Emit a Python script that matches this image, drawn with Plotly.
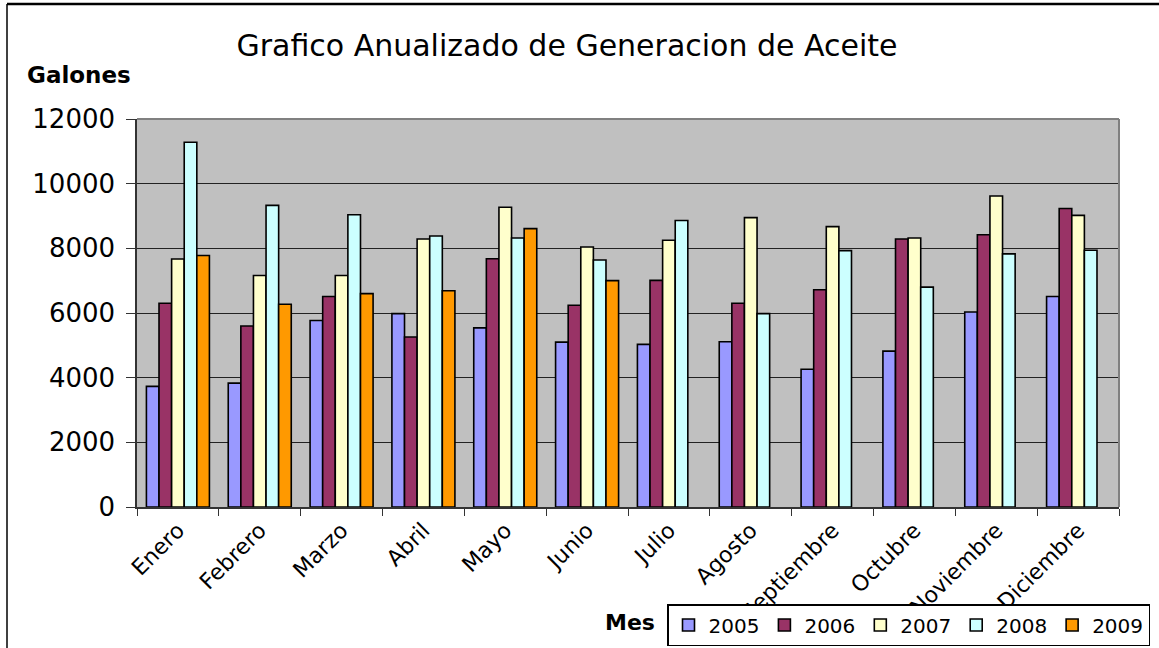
import plotly.graph_objects as go

months = ["Enero", "Febrero", "Marzo", "Abril", "Mayo", "Junio", "Julio",
          "Agosto", "Septiembre", "Octubre", "Noviembre", "Diciembre"]

y2005 = [3730, 3830, 5770, 5980, 5540, 5100, 5030, 5110, 4260, 4820, 6030, 6510]
y2006 = [6300, 5600, 6510, 5260, 7680, 6240, 7010, 6300, 6720, 8290, 8420, 9230]
y2007 = [7670, 7160, 7160, 8290, 9270, 8040, 8250, 8950, 8670, 8320, 9620, 9020]
y2008 = [11280, 9330, 9040, 8380, 8320, 7640, 8860, 5980, 7930, 6800, 7830, 7940]
y2009 = [7780, 6270, 6600, 6690, 8610, 7000, None, None, None, None, None, None]

series = [("2005", y2005, "#9999FF"), ("2006", y2006, "#993366"),
          ("2007", y2007, "#FFFFCC"), ("2008", y2008, "#CCFFFF"),
          ("2009", y2009, "#FF9900")]

W, H = 1159, 648
ML, MR, MT, MB = 137, 40, 119, 141
pw = W - ML - MR
ph = H - MT - MB

fig = go.Figure()
for name, vals, col in series:
    fig.add_trace(go.Bar(x=months, y=vals, name=name,
                         marker=dict(color=col, line=dict(color="black", width=1.6))))

FONT = "DejaVu Sans"
fig.update_layout(
    width=W, height=H,
    margin=dict(l=ML, r=MR, t=MT, b=MB, autoexpand=False),
    paper_bgcolor="white", plot_bgcolor="#C0C0C0",
    barmode="group", bargap=0.23, bargroupgap=0,
    font=dict(family=FONT, color="black"),
    title=dict(text="Grafico Anualizado de Generacion de Aceite",
               font=dict(family=FONT, size=30, color="black"),
               x=(567) / W, xanchor="center", y=1 - 45 / H, yanchor="middle"),
    showlegend=True,
    legend=dict(orientation="h", xref="container", yref="container",
                x=1150 / W, xanchor="right", y=(H - 646) / H, yanchor="bottom",
                bordercolor="black", borderwidth=1.5, bgcolor="white",
                font=dict(family=FONT, size=20), itemwidth=30,
                traceorder="normal"),
    xaxis=dict(tickangle=-45, tickfont=dict(family=FONT, size=22),
               ticks="outside", tickson="boundaries", ticklen=7, tickcolor="#333333",
               showline=True, linecolor="#333333", linewidth=1.5,
               showgrid=False, automargin=False),
    yaxis=dict(range=[0, 12000], dtick=2000, tickformat="d",
               tickfont=dict(family=FONT, size=26), ticklabelstandoff=6,
               ticks="outside", ticklen=9, tickcolor="#333333",
               showline=True, linecolor="#333333", linewidth=1.5,
               showgrid=True, gridcolor="#222222", gridwidth=1.2,
               zeroline=False, automargin=False),
    annotations=[
        dict(text="<b>Galones</b>", xref="paper", yref="paper",
             x=(25 - ML) / pw, xanchor="left", y=1 + (MT - 75) / ph, yanchor="middle",
             showarrow=False, font=dict(family=FONT, size=23, color="black")),
        dict(text="<b>Mes</b>", xref="paper", yref="paper",
             x=(630 - ML) / pw, xanchor="center", y=-(622 - MT - ph) / ph, yanchor="middle",
             showarrow=False, font=dict(family=FONT, size=22, color="black")),
    ],
    shapes=[
        dict(type="line", xref="paper", yref="paper", x0=0, x1=1, y0=1, y1=1,
             line=dict(color="#808080", width=2)),
        dict(type="line", xref="paper", yref="paper", x0=1, x1=1, y0=0, y1=1,
             line=dict(color="#808080", width=2)),
        dict(type="line", xref="paper", yref="paper",
             x0=(7 - ML) / pw, x1=(7 - ML) / pw, y0=-(H - MT - ph) / ph, y1=1 + (MT - 4) / ph,
             line=dict(color="#404040", width=2)),
        dict(type="line", xref="paper", yref="paper",
             x0=(7 - ML) / pw, x1=(W - ML) / pw, y0=1 + (MT - 4) / ph, y1=1 + (MT - 4) / ph,
             line=dict(color="black", width=2.5)),
    ],
)

fig.write_html("out.html", config={"displayModeBar": False},
               post_script="document.body.style.margin='0';document.body.style.overflow='hidden';")
